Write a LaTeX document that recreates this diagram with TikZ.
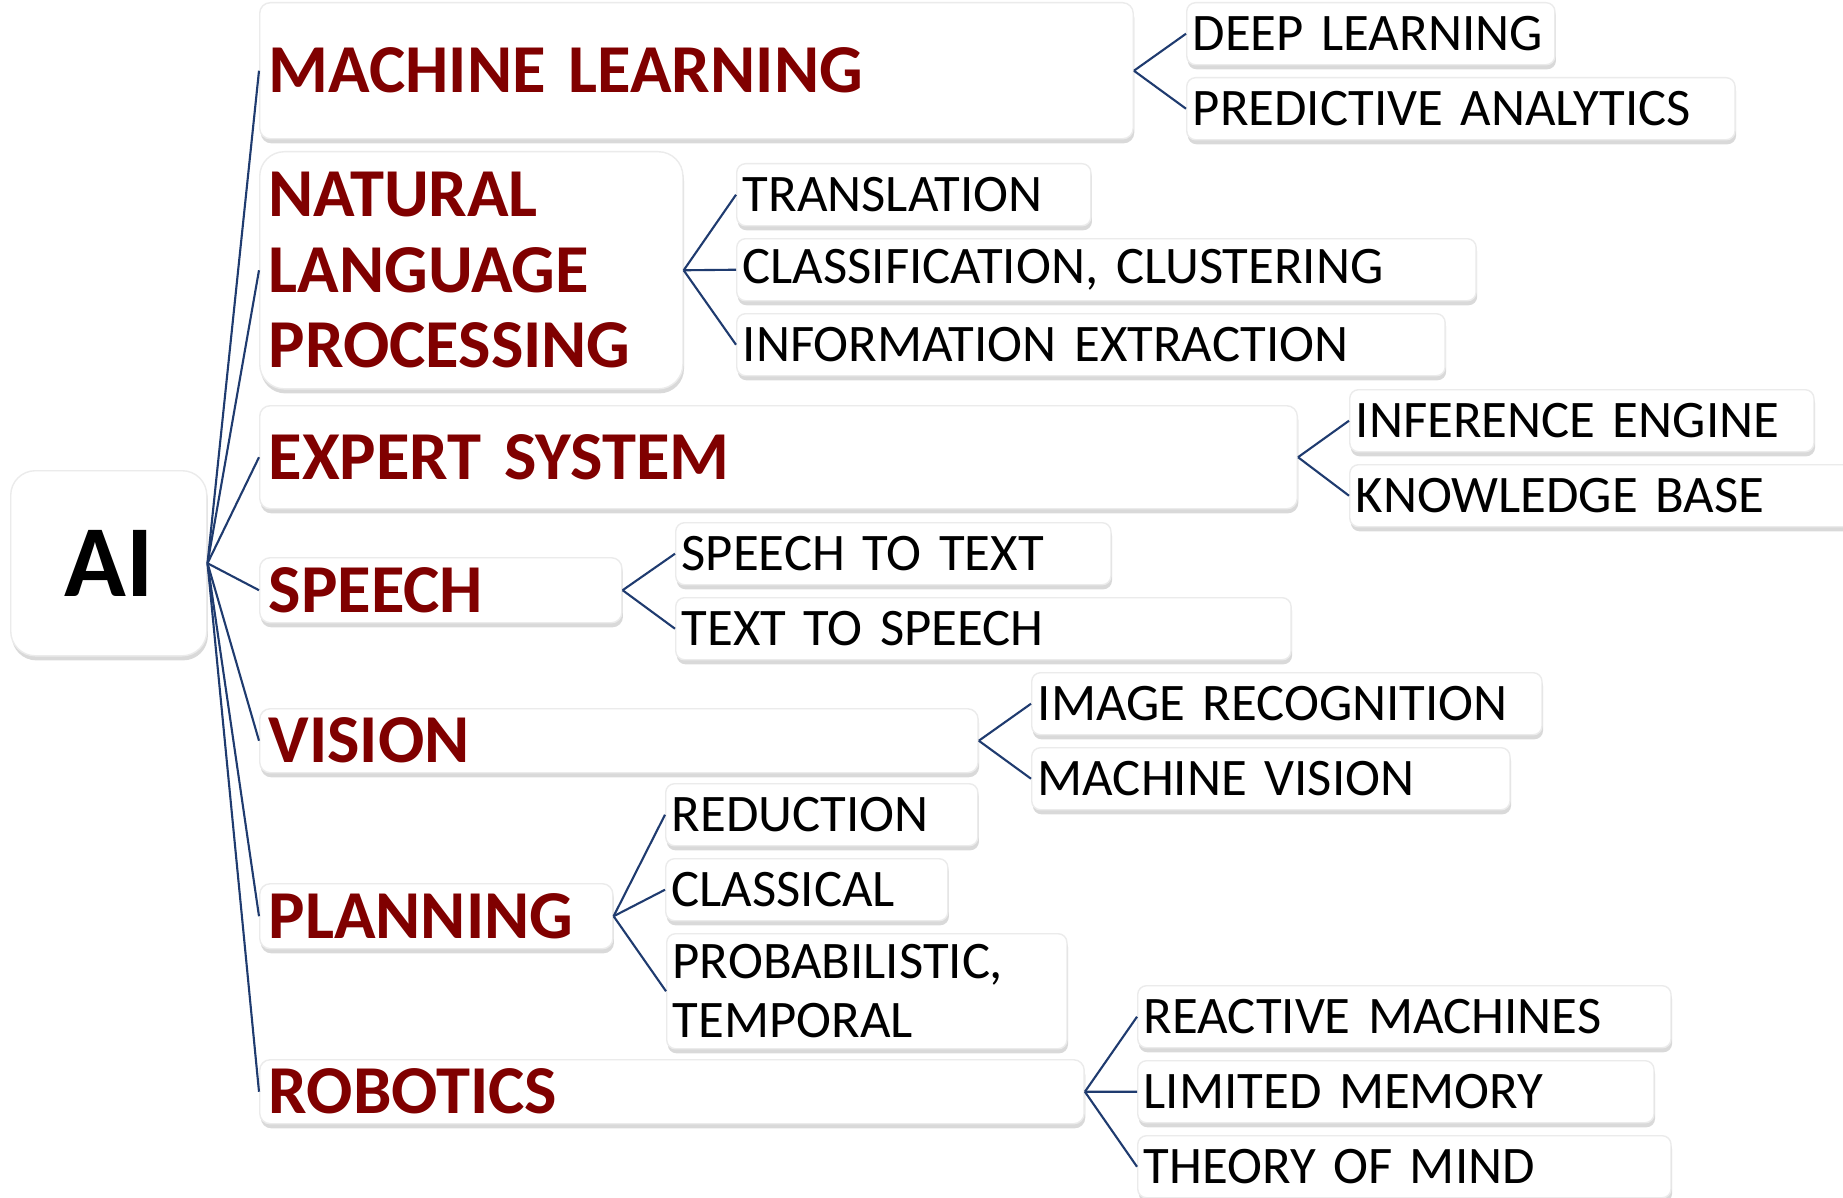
\documentclass[tikz,border=0pt]{standalone}
\usepackage{fontspec}
\setmainfont{Carlito}
\usepackage{tikz}
\usetikzlibrary{positioning, shadows}
\definecolor{topicred}{HTML}{800000}
\definecolor{linkblue}{HTML}{1F3B6F}
\tikzset{
    root/.style={rectangle, rounded corners=7pt, draw=black!8, fill=white, drop shadow={opacity=0.3, shadow xshift=0.3pt, shadow yshift=-1.3pt}, font=\fontsize{29}{32}\selectfont\bfseries, anchor=north west, inner sep=0pt},
    topic/.style={rectangle, rounded corners=3pt, draw=black!8, fill=white, drop shadow={opacity=0.3, shadow xshift=0.3pt, shadow yshift=-1.3pt}, font=\fontsize{19.5}{21.5}\selectfont\bfseries, text=topicred, align=left, anchor=north west, inner xsep=0.09cm, inner ysep=0pt},
    leaf/.style={rectangle, rounded corners=2.5pt, draw=black!8, fill=white, drop shadow={opacity=0.3, shadow xshift=0.3pt, shadow yshift=-1.3pt}, font=\fontsize{15}{16.6}\selectfont, align=left, anchor=north west, inner xsep=0.06cm, inner ysep=0pt, minimum height=0.62cm},
    link/.style={draw=linkblue, line width=0.6pt},
}
\begin{document}
\begin{tikzpicture}[x=0.01cm, y=-0.01cm]
        \clip (0,0) rectangle (1843,1197);
        \node [root, minimum width=1.96cm, minimum height=1.85cm] (ai) at (10,470) {AI};
        % first level
        \node [topic, text width=8.55cm, minimum height=1.36cm] (ml) at (259,2) {MACHINE LEARNING};
        \node [topic, text width=4.05cm, minimum height=2.37cm, rounded corners=7pt] (nlp) at (259,151) {NATURAL\\LANGUAGE\\PROCESSING};
        \node [topic, text width=10.19cm, minimum height=1.03cm] (expert) at (259,405) {EXPERT SYSTEM};
        \node [topic, text width=3.44cm, minimum height=0.65cm] (speech) at (259,557) {SPEECH};
        \node [topic, text width=7.00cm, minimum height=0.64cm] (vision) at (259,708) {VISION};
        \node [topic, text width=3.35cm, minimum height=0.65cm] (planning) at (259,883) {PLANNING};
        \node [topic, text width=8.06cm, minimum height=0.64cm] (robotics) at (259,1059) {ROBOTICS};
        % second level
        \node [leaf, text width=3.56cm] (deep) at (1186,2) {DEEP LEARNING};
        \node [leaf, text width=5.36cm] (predictive) at (1186,77) {PREDICTIVE ANALYTICS};
        \node [leaf, text width=3.42cm] (translation) at (736,163) {TRANSLATION};
        \node [leaf, text width=7.27cm] (classif) at (736,238) {CLASSIFICATION, CLUSTERING};
        \node [leaf, text width=6.96cm] (extraction) at (736,313) {INFORMATION EXTRACTION};
        \node [leaf, text width=4.52cm] (inference) at (1349,389) {INFERENCE ENGINE};
        \node [leaf, text width=5.08cm] (knowledge) at (1349,464) {KNOWLEDGE BASE};
        \node [leaf, text width=4.23cm] (stt) at (675,522) {SPEECH TO TEXT};
        \node [leaf, text width=6.03cm] (tts) at (675,597) {TEXT TO SPEECH};
        \node [leaf, text width=4.98cm] (recognition) at (1031,672) {IMAGE RECOGNITION};
        \node [leaf, text width=4.66cm] (mvision) at (1031,747) {MACHINE VISION};
        \node [leaf, text width=3.00cm] (reduction) at (665,783) {REDUCTION};
        \node [leaf, text width=2.70cm] (classical) at (665,858) {CLASSICAL};
        \node [leaf, text width=3.88cm, minimum height=1.15cm] (probabilistic) at (666,933) {PROBABILISTIC,\\TEMPORAL};
        \node [leaf, text width=5.21cm] (reactive) at (1137,985) {REACTIVE MACHINES};
        \node [leaf, text width=5.04cm] (limited) at (1137,1060) {LIMITED MEMORY};
        \node [leaf, text width=5.21cm] (theory) at (1137,1135) {THEORY OF MIND};
        % connectors
        \draw[link] (ai.east) -- (ml.west);
        \draw[link] (ai.east) -- (nlp.west);
        \draw[link] (ai.east) -- (expert.west);
        \draw[link] (ai.east) -- (speech.west);
        \draw[link] (ai.east) -- (vision.west);
        \draw[link] (ai.east) -- (planning.west);
        \draw[link] (ai.east) -- (robotics.west);
        \draw[link] (ml.east) -- (deep.west);
        \draw[link] (ml.east) -- (predictive.west);
        \draw[link] (nlp.east) -- (translation.west);
        \draw[link] (nlp.east) -- (classif.west);
        \draw[link] (nlp.east) -- (extraction.west);
        \draw[link] (expert.east) -- (inference.west);
        \draw[link] (expert.east) -- (knowledge.west);
        \draw[link] (speech.east) -- (stt.west);
        \draw[link] (speech.east) -- (tts.west);
        \draw[link] (vision.east) -- (recognition.west);
        \draw[link] (vision.east) -- (mvision.west);
        \draw[link] (planning.east) -- (reduction.west);
        \draw[link] (planning.east) -- (classical.west);
        \draw[link] (planning.east) -- (probabilistic.west);
        \draw[link] (robotics.east) -- (reactive.west);
        \draw[link] (robotics.east) -- (limited.west);
        \draw[link] (robotics.east) -- (theory.west);
    \end{tikzpicture}
\end{document}
